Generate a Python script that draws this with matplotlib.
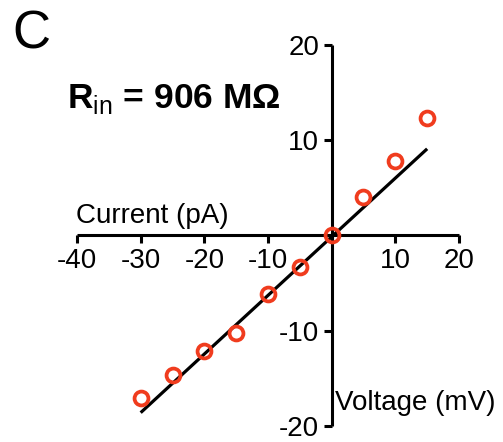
import matplotlib
matplotlib.use('Agg')
import matplotlib.pyplot as plt

plt.rcParams['font.family'] = ['Liberation Sans', 'DejaVu Sans']
plt.rcParams['mathtext.fontset'] = 'custom'
plt.rcParams['mathtext.rm'] = 'Liberation Sans'
plt.rcParams['mathtext.bf'] = 'Liberation Sans:bold'

# Measured points (current in pA, voltage in mV)
current = [-30, -25, -20, -15, -10, -5, 0, 5, 10, 15]
voltage = [-17.1, -14.6, -12.1, -10.2, -6.1, -3.3, 0.0, 4.0, 7.8, 12.3]

# Linear fit endpoints
fit_x = [-30, 15]
fit_y = [-18.6, 9.1]

xticks = [-40, -30, -20, -10, 0, 10, 20]
xticklabels = ['-40', '-30', '-20', '-10', '', '10', '20']
yticks = [-20, -10, 0, 10, 20]
yticklabels = ['-20', '-10', '', '10', '20']

fig = plt.figure(figsize=(5.03, 4.42), dpi=100)
ax = fig.add_axes([0.1531, 0.0362, 0.7594, 0.862])

ax.plot(fit_x, fit_y, color='black', lw=2.3, solid_capstyle='butt', zorder=3)
ax.plot(current, voltage, 'o', mfc='none', mec='#f03c1e', mew=2.7, ms=10,
        zorder=4, clip_on=False)

ax.set_xlim(-40, 20)
ax.set_ylim(-20, 20)
ax.spines['left'].set_position(('data', 0))
ax.spines['bottom'].set_position(('data', 0))
ax.spines['right'].set_visible(False)
ax.spines['top'].set_visible(False)
for s in ['left', 'bottom']:
    ax.spines[s].set_linewidth(2.2)
    ax.spines[s].set_capstyle('butt')

ax.set_xticks(xticks)
ax.set_xticklabels(xticklabels)
ax.set_yticks(yticks)
ax.set_yticklabels(yticklabels)
ax.tick_params(axis='both', direction='out', length=6, width=2.2,
               labelsize=20, pad=3)
ax.patch.set_visible(False)

fig.text(0.151, 0.4955, 'Current (pA)', fontsize=20, ha='left', va='baseline')
fig.text(0.666, 0.072, 'Voltage (mV)', fontsize=20, ha='left', va='baseline')
fig.text(0.024, 0.891, 'C', fontsize=38, ha='left', va='baseline')
fig.text(0.133, 0.756, r'$\mathbf{R}_{\mathrm{in}}$ = 906 MΩ', fontsize=25.5,
         fontweight='bold', ha='left', va='baseline')

plt.savefig('out.png', dpi=100)
